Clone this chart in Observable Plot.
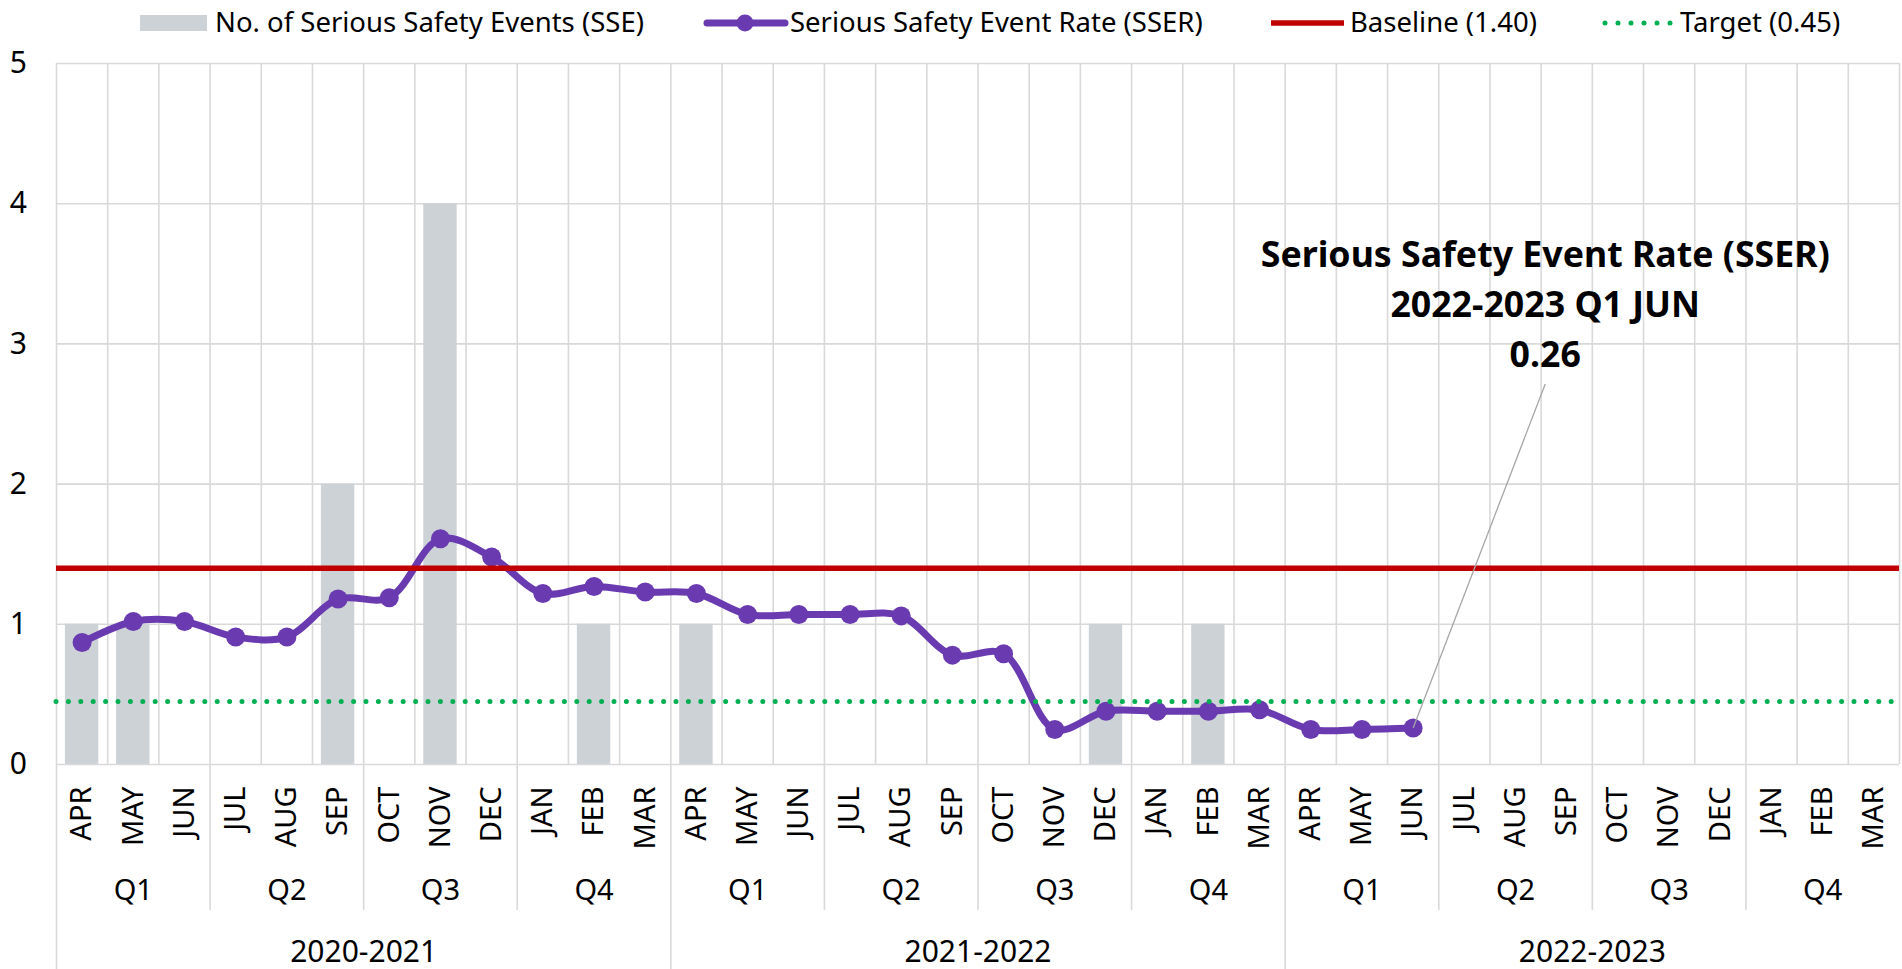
<!DOCTYPE html>
<html>
<head>
<meta charset="utf-8">
<script src="https://cdn.jsdelivr.net/npm/d3@7"></script>
<script src="https://cdn.jsdelivr.net/npm/@observablehq/plot@0.6"></script>
<style>
  html, body { margin: 0; padding: 0; background: #fff; }
  body { width: 1902px; height: 969px; overflow: hidden; font-family: "Noto Sans", sans-serif; }
  #legend { display: block; }
  #chart svg { display: block; }
</style>
</head>
<body>
<svg id="legend" width="1902" height="45"></svg>
<div id="chart"></div>
<script>
// ---------- data ----------
const fiscalYears = ["2020-2021", "2021-2022", "2022-2023"];
const quarters = ["Q1", "Q2", "Q3", "Q4"];
const months = ["APR", "MAY", "JUN", "JUL", "AUG", "SEP", "OCT", "NOV", "DEC", "JAN", "FEB", "MAR"];
// No. of Serious Safety Events, APR 2020 .. JUN 2022
const sseCounts = [1, 1, 0, 0, 0, 2, 0, 4, 0, 0, 1, 0,
                   1, 0, 0, 0, 0, 0, 0, 0, 1, 0, 1, 0,
                   0, 0, 0];
// Serious Safety Event Rate, APR 2020 .. JUN 2022
const sserValues = [0.87, 1.02, 1.02, 0.91, 0.91, 1.18, 1.19, 1.61, 1.48, 1.22, 1.27, 1.23,
                    1.22, 1.07, 1.07, 1.07, 1.06, 0.78, 0.79, 0.25, 0.38, 0.38, 0.38, 0.39,
                    0.25, 0.25, 0.26];
const baseline = 1.40;
const target = 0.45;
const yTicks = [0, 1, 2, 3, 4, 5];
const seriesNames = ["No. of Serious Safety Events (SSE)", "Serious Safety Event Rate (SSER)", "Baseline (1.40)", "Target (0.45)"];

// ---------- styles ----------
const FONT = '"Noto Sans", sans-serif';
const GRID = "#d9d9d9";
const BAR = "#cdd2d7";
const PURPLE = "#6a3ab0";
const RED = "#c00000";
const GREEN = "#00b050";

// ---------- derived tables ----------
const slots = [];
fiscalYears.forEach((fy, fi) => months.forEach((m, mi) => {
  slots.push({i: fi * 12 + mi, fy, q: quarters[Math.floor(mi / 3)], m});
}));
const data = sserValues.map((v, k) => ({...slots[k], sse: sseCounts[k], sser: v}));
const quarterLabels = fiscalYears.flatMap((fy, fi) => quarters.map((q, qi) => ({q, start: fi * 12 + qi * 3})));
const yearLabels = fiscalYears.map((fy, fi) => ({fy, start: fi * 12}));
const nSlots = slots.length;

const last = data[data.length - 1];
// annotation label anchor (layout position, in scale units)
const annotation = {
  x1: last.i + 0.5, y1: last.sser,
  x2: 29.08, y2: 2.714,
  lines: [seriesNames[1], `${last.fy} ${last.q} ${last.m}`, last.sser.toFixed(2)]
};

// ---------- chart ----------
const chart = Plot.plot({
  width: 1902,
  height: 924,
  marginTop: 18,
  marginBottom: 205,
  marginLeft: 56,
  marginRight: 3,
  x: {type: "linear", domain: [0, nSlots], axis: null},
  y: {domain: [0, 5], axis: null},
  style: {fontFamily: FONT, fontSize: "29px", color: "#000", background: "#fff", overflow: "visible"},
  marks: [
    // gridlines
    Plot.ruleY(yTicks.filter(d => d > 0), {stroke: GRID, strokeWidth: 1.6}),
    Plot.ruleX(d3.range(0, nSlots + 1), {stroke: GRID, strokeWidth: 1.6}),
    // bars
    Plot.rect(data.filter(d => d.sse > 0), {
      x1: d => d.i, x2: d => d.i + 1, y1: () => 0, y2: "sse",
      fill: BAR, insetLeft: 8.9, insetRight: 8.9
    }),
    // category axis structure
    Plot.ruleY([0], {stroke: GRID, strokeWidth: 1.6}),
    Plot.ruleX(quarterLabels.filter(d => d.start % 12 !== 0), {
      x: "start", y1: () => 0, y2: () => 0, insetBottom: -146, stroke: GRID, strokeWidth: 1.6
    }),
    Plot.ruleX(yearLabels, {
      x: "start", y1: () => 0, y2: () => 0, insetBottom: -205, stroke: GRID, strokeWidth: 1.6
    }),
    // SSER line
    Plot.line(data, {x: d => d.i + 0.5, y: "sser", stroke: PURPLE, strokeWidth: 7, curve: "catmull-rom"}),
    Plot.dot(data, {x: d => d.i + 0.5, y: "sser", r: 9.5, fill: PURPLE}),
    // baseline & target
    Plot.ruleY([baseline], {stroke: RED, strokeWidth: 5.5}),
    Plot.ruleY([target], {stroke: GREEN, strokeWidth: 5, strokeDasharray: "0 12.4", strokeLinecap: "round"}),
    // annotation
    Plot.link([annotation], {x1: "x1", y1: "y1", x2: "x2", y2: "y2", stroke: "#a6a6a6", strokeWidth: 1.3}),
    Plot.text([annotation], {
      x: "x2", y: "y2", text: d => d.lines.join("\n"), lineAnchor: "bottom", dy: -17,
      fontWeight: "bold", fontSize: 35.7, lineHeight: 50 / 35.7, fill: "#000"
    }),
    // y tick labels
    Plot.text(yTicks, {x: () => 0, y: d => d, text: d => String(d), textAnchor: "end", dx: -29.5, fontSize: 30}),
    // month labels
    Plot.text(slots, {x: d => d.i + 0.5, y: () => 0, text: "m", rotate: -90, textAnchor: "end", dy: 22, fontSize: 29}),
    // quarter labels
    Plot.text(quarterLabels, {x: d => d.start + 1.5, y: () => 0, text: "q", dy: 126, fontSize: 29}),
    // fiscal year labels
    Plot.text(yearLabels, {x: d => d.start + 6, y: () => 0, text: "fy", dy: 188, fontSize: 30})
  ]
});
document.getElementById("chart").appendChild(chart);

// ---------- legend ----------
const lg = d3.select("#legend");
lg.style("font-family", FONT);
const cy = 23;
const legendItems = [
  {label: seriesNames[0], textX: 215, draw: g => g.append("rect").attr("x", 140).attr("y", 15).attr("width", 67).attr("height", 16).attr("fill", BAR)},
  {label: seriesNames[1], textX: 790, draw: g => {
    g.append("line").attr("x1", 707).attr("x2", 785).attr("y1", cy).attr("y2", cy).attr("stroke", PURPLE).attr("stroke-width", 7).attr("stroke-linecap", "round");
    g.append("circle").attr("cx", 745).attr("cy", cy).attr("r", 8.5).attr("fill", PURPLE);
  }},
  {label: seriesNames[2], textX: 1350, draw: g => g.append("line").attr("x1", 1271).attr("x2", 1344).attr("y1", cy).attr("y2", cy).attr("stroke", RED).attr("stroke-width", 5.5)},
  {label: seriesNames[3], textX: 1680, draw: g => g.append("line").attr("x1", 1605).attr("x2", 1671).attr("y1", cy).attr("y2", cy).attr("stroke", GREEN).attr("stroke-width", 5).attr("stroke-dasharray", "0 13").attr("stroke-linecap", "round")}
];
legendItems.forEach(it => {
  const g = lg.append("g");
  it.draw(g);
  g.append("text").attr("x", it.textX).attr("y", cy).attr("dy", "0.32em").attr("font-size", 27.5).attr("fill", "#000").text(it.label);
});
</script>
</body>
</html>
